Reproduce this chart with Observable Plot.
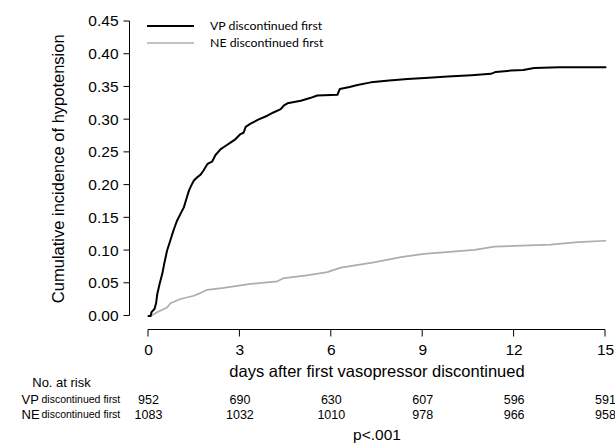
<!DOCTYPE html>
<html><head><meta charset="utf-8">
<script src="https://cdn.jsdelivr.net/npm/d3@7"></script>
<script src="https://cdn.jsdelivr.net/npm/@observablehq/plot@0.6"></script>
<style>
html,body{margin:0;padding:0;background:#fff;}
#chart svg{display:block;}
</style></head><body><div id="chart"></div>
<script>
// ---- data ----
const vpDays = [0,0.07,0.1,0.2,0.25,0.29,0.37,0.45,0.53,0.61,0.7,0.78,0.86,0.94,1.05,1.16,1.25,1.33,1.41,1.49,1.6,1.71,1.8,1.93,2.0,2.09,2.2,2.37,2.5,2.69,2.85,3.02,3.12,3.19,3.35,3.6,3.9,4.1,4.34,4.45,4.56,5.0,5.3,5.54,6.2,6.28,6.6,6.86,7.3,7.9,8.5,9.2,9.82,10.6,11.24,11.4,11.9,12.3,12.66,13.5,15];
const vpIncidence = [0,0,0.006,0.011,0.02,0.034,0.05,0.064,0.083,0.1,0.113,0.125,0.136,0.146,0.156,0.166,0.18,0.192,0.2,0.207,0.212,0.216,0.222,0.232,0.234,0.236,0.246,0.255,0.259,0.265,0.27,0.278,0.28,0.289,0.294,0.3,0.306,0.311,0.316,0.322,0.325,0.329,0.333,0.337,0.338,0.347,0.35,0.353,0.357,0.36,0.362,0.364,0.366,0.368,0.37,0.373,0.375,0.376,0.379,0.38,0.38];
const neDays = [0,0.07,0.3,0.61,0.72,1.05,1.49,1.7,1.93,2.47,3.35,4.23,4.45,5.2,5.87,6.31,7.4,8.28,9.05,10.7,11.35,13.2,14.1,15];
const neIncidence = [0,0,0.006,0.013,0.0195,0.026,0.031,0.035,0.04,0.043,0.049,0.053,0.058,0.062,0.067,0.074,0.082,0.09,0.095,0.101,0.106,0.109,0.113,0.115];
const seriesNames = ["VP discontinued first", "NE discontinued first"];
const seriesShort = ["VP", "NE"];
const seriesRest = "discontinued first";
const xTicks = [0, 3, 6, 9, 12, 15];
const yTicks = [0, 0.05, 0.10, 0.15, 0.20, 0.25, 0.30, 0.35, 0.40, 0.45];
const riskDays = [0, 3, 6, 9, 12, 15];
const vpAtRisk = [952, 690, 630, 607, 596, 591];
const neAtRisk = [1083, 1032, 1010, 978, 966, 958];
const xTitle = "days after first vasopressor discontinued";
const yTitle = "Cumulative incidence of hypotension";
const riskTitle = "No. at risk";
const pText = "p<.001";

// ---- build tables ----
const curves = [
  ...vpDays.map((d, i) => ({day: d, inc: vpIncidence[i], group: seriesNames[0]})),
  ...neDays.map((d, i) => ({day: d, inc: neIncidence[i], group: seriesNames[1]}))
];
const colors = ["#000000", "#adadad"];
const widths = [2, 1.7];
const FONT = "'Liberation Sans', Arial, Helvetica, sans-serif";
const xMid = (xTicks[0] + xTicks[xTicks.length - 1]) / 2;
const yMid = (yTicks[0] + yTicks[yTicks.length - 1]) / 2;
const Y_AXIS_GAP = 19;   // y axis line sits left of x = 0
const X_AXIS_GAP = 13;   // x axis line sits below y = 0

function axes(index, scales) {
  const g = d3.create("svg:g").attr("stroke", "#000").attr("stroke-width", 1).attr("fill", "none");
  const left = Math.round(scales.x(xTicks[0]) - Y_AXIS_GAP) + 0.5;
  const bottom = Math.round(scales.y(yTicks[0]) + X_AXIS_GAP) + 0.5;
  g.append("line").attr("x1", left).attr("x2", left)
    .attr("y1", scales.y(yTicks[0])).attr("y2", scales.y(yTicks[yTicks.length - 1]));
  yTicks.forEach(t => g.append("line").attr("x1", left - 6).attr("x2", left)
    .attr("y1", scales.y(t)).attr("y2", scales.y(t)));
  g.append("line").attr("x1", scales.x(xTicks[0])).attr("x2", scales.x(xTicks[xTicks.length - 1]))
    .attr("y1", bottom).attr("y2", bottom);
  xTicks.forEach(t => g.append("line").attr("x1", scales.x(t)).attr("x2", scales.x(t))
    .attr("y1", bottom).attr("y2", bottom + 7));
  return g.node();
}

function legend(index, scales, values, dimensions) {
  const g = d3.create("svg:g");
  const x0 = scales.x(xTicks[0]) - 1;
  const top = dimensions.marginTop;
  seriesNames.forEach((name, i) => {
    const yy = top + 5 + i * 17;
    g.append("line").attr("x1", x0).attr("x2", x0 + 47).attr("y1", yy).attr("y2", yy)
      .attr("stroke", colors[i]).attr("stroke-width", widths[i]);
    g.append("text").attr("x", x0 + 63).attr("y", yy).attr("dy", "0.35em")
      .attr("text-anchor", "start")
      .attr("font-family", "Lato, 'Open Sans', sans-serif").attr("font-size", 12.3)
      .attr("fill", "#000").text(name);
  });
  return g.node();
}

const T = {lineAnchor: "middle", fill: "#000"};

const chart = Plot.plot({
  width: 615,
  height: 444,
  marginLeft: 148,
  marginRight: 10,
  marginTop: 21,
  marginBottom: 128.5,
  style: {fontFamily: FONT, background: "#fff", color: "#000"},
  x: {domain: [xTicks[0], xTicks[xTicks.length - 1]], axis: null},
  y: {domain: [yTicks[0], yTicks[yTicks.length - 1]], axis: null},
  marks: [
    axes,
    // tick labels
    Plot.text(yTicks, {...T, y: d => d, frameAnchor: "left", text: d => d3.format(".2f")(d), textAnchor: "end", dx: -30, fontSize: 15.5}),
    Plot.text(xTicks, {...T, x: d => d, frameAnchor: "bottom", text: d => String(d), textAnchor: "middle", dy: 34.5, fontSize: 15.5}),
    // curves
    Plot.line(curves.filter(d => d.group === seriesNames[1]), {x: "day", y: "inc", stroke: colors[1], strokeWidth: widths[1]}),
    Plot.line(curves.filter(d => d.group === seriesNames[0]), {x: "day", y: "inc", stroke: colors[0], strokeWidth: widths[0]}),
    legend,
    // axis titles
    Plot.text([yTitle], {...T, y: yMid, frameAnchor: "left", text: d => d, rotate: -90, textAnchor: "middle", dx: -90, fontSize: 16.5}),
    Plot.text([xTitle], {...T, x: xMid, frameAnchor: "bottom", text: d => d, textAnchor: "middle", dy: 56, fontSize: 16.5}),
    // risk table
    Plot.text([riskTitle], {...T, frameAnchor: "bottom-left", text: d => d, dx: -87, dy: 66.5, fontSize: 13, textAnchor: "middle"}),
    Plot.text([seriesShort[0]], {...T, frameAnchor: "bottom-left", text: d => d, dx: -127, dy: 83.5, fontSize: 13, textAnchor: "start"}),
    Plot.text([seriesShort[1]], {...T, frameAnchor: "bottom-left", text: d => d, dx: -127, dy: 99, fontSize: 13, textAnchor: "start"}),
    Plot.text([seriesRest], {...T, frameAnchor: "bottom-left", text: d => d, dx: -107, dy: 83.5, fontSize: 10.5, textAnchor: "start"}),
    Plot.text([seriesRest], {...T, frameAnchor: "bottom-left", text: d => d, dx: -107, dy: 99, fontSize: 10.5, textAnchor: "start"}),
    Plot.text(riskDays, {...T, x: d => d, frameAnchor: "bottom", text: (d, i) => String(vpAtRisk[i]), textAnchor: "middle", dy: 83.5, fontSize: 12.5}),
    Plot.text(riskDays, {...T, x: d => d, frameAnchor: "bottom", text: (d, i) => String(neAtRisk[i]), textAnchor: "middle", dy: 99, fontSize: 12.5}),
    Plot.text([pText], {...T, x: xMid, frameAnchor: "bottom", text: d => d, textAnchor: "middle", dy: 119.5, fontSize: 15.5})
  ]
});
document.getElementById("chart").appendChild(chart);
</script></body></html>
